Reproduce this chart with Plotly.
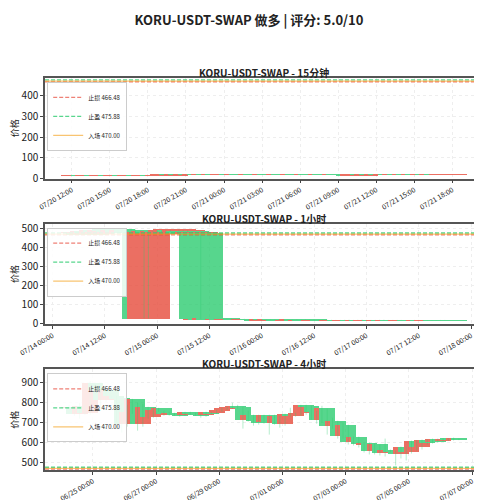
import pandas as pd
import plotly.graph_objects as go
from plotly.subplots import make_subplots

STOP, TAKE, ENTRY = 466.48, 475.88, 470.00

# 15m chart candles (closes), open = previous close
m15_start = "2024-07-20 12:40"
m15_close = [15.6, 15.8, 15.5, 15.7, 15.9, 15.6, 15.8, 16.0, 15.7, 15.9, 16.1, 15.8,
             16.0, 16.2, 15.9, 16.1, 16.3, 16.0, 16.2, 19.5, 20.8, 20.5, 20.9, 20.6,
             20.9, 20.6, 20.8, 20.5, 20.7, 20.4, 20.6, 20.3, 20.5, 20.8, 20.5, 20.9,
             20.6, 20.3, 20.7, 20.4, 20.1, 20.5, 20.2, 19.9, 20.3, 20.0, 19.7, 20.1,
             19.8, 19.5, 19.9, 19.6, 19.3, 19.7, 19.4, 19.1, 19.5, 19.2, 18.9, 17.0,
             18.5, 18.8, 18.6, 18.9, 18.7, 19.0, 18.8, 19.1, 18.9, 19.2, 19.0, 19.3,
             19.1, 19.4, 19.2, 19.5, 19.3, 19.6, 19.4, 19.7]

# 1h candles
h1_start = "2024-07-14 07:00"
h1_close = [478, 470, 486, 480, 494, 488, 496, 490, 485, 492, 488, 495, 480, 478,
            26, 482, 488, 478, 490, 484, 492, 494, 486, 490, 480, 476, 478, 22,
            24, 23, 25, 24, 23, 24, 22, 23, 24, 22, 20, 21, 22, 20, 19, 21, 20, 22,
            20, 19, 18, 19, 20, 18, 19, 18, 17, 18, 19, 18, 17, 18, 19, 17, 18, 19,
            17, 18, 17, 18, 19, 17, 18, 17, 18, 17, 16, 17, 18, 17, 16, 17, 16, 17, 18, 17]

# 4h candles
h4_start = "2024-06-24 06:00"
h4_close = [775, 740, 780, 745, 900, 860, 810, 860, 830, 820, 690, 750, 815, 690,
            775, 725, 760, 770, 740, 745, 740, 735, 750, 745, 740, 735, 750, 745,
            760, 770, 775, 780, 775, 710, 735, 705, 700, 735, 695, 730, 690, 740,
            735, 745, 785, 780, 750, 710, 770, 680, 705, 630, 685, 600, 625, 590,
            595, 555, 590, 545, 560, 555, 540, 575, 550, 605, 575, 610, 600, 615,
            605, 618, 612, 620, 615]
h4_high = [790, 785, 800, 790, 910, 895, 875, 870, 835, 835, 800, 790, 820, 800,
           795, 780, 775, 775, 760, 755, 750, 745, 755, 755, 750, 745, 755, 755,
           765, 775, 780, 800, 790, 780, 760, 740, 740, 740, 740, 740, 735, 745,
           775, 750, 790, 790, 785, 760, 785, 770, 725, 710, 700, 690, 630, 630,
           600, 600, 595, 590, 620, 565, 560, 580, 580, 610, 612, 615, 615, 620,
           620, 622, 622, 625, 620]
h4_low = [765, 735, 720, 740, 740, 845, 760, 805, 825, 700, 650, 680, 745, 660,
          680, 720, 725, 755, 735, 735, 735, 730, 735, 740, 735, 725, 730, 740,
          745, 755, 765, 770, 770, 670, 705, 685, 690, 695, 640, 690, 675, 685,
          730, 730, 735, 740, 715, 695, 700, 640, 670, 620, 620, 590, 585, 575,
          550, 540, 540, 535, 530, 550, 485, 520, 510, 545, 560, 565, 590, 595,
          600, 605, 608, 610, 612]

RED, GREEN = "#e74c3c", "#2ecc71"
FMT = "%Y-%m-%d %H:%M:%S"


def candles(start, freq, close, high=None, low=None):
    t = pd.date_range(start, periods=len(close), freq=freq)
    df = pd.DataFrame({"t": t, "close": close})
    df["open"] = df["close"].shift(1).fillna(df["close"])
    df["high"] = high if high else df[["open", "close"]].max(axis=1)
    df["low"] = low if low else df[["open", "close"]].min(axis=1)
    df["color"] = [RED if c >= o else GREEN for o, c in zip(df["open"], df["close"])]
    return df


panels = [
    ("KORU-USDT-SWAP - 15分钟", candles(m15_start, "22min", m15_close), 3.0, 3, [0, 485]),
    ("KORU-USDT-SWAP - 1小时", candles(h1_start, "1h", h1_close), 10.0, 12, [-5, 525]),
    ("KORU-USDT-SWAP - 4小时", candles(h4_start, "4h", h4_close, h4_high, h4_low), 12.0, 48, [462, 968]),
]

fig = make_subplots(rows=3, cols=1, subplot_titles=[p[0] for p in panels],
                    vertical_spacing=0.115)

for i, (title, df, width_h, tick_h, yr) in enumerate(panels, start=1):
    leg = "legend" if i == 1 else f"legend{i}"
    wx, wy = [], []
    for t, h, l in zip(df["t"], df["high"], df["low"]):
        wx += [t.strftime(FMT), t.strftime(FMT), None]
        wy += [l, h, None]
    fig.add_trace(go.Scatter(x=wx, y=wy, mode="lines", line=dict(color="rgba(46,204,113,0.35)", width=1),
                             showlegend=False, hoverinfo="skip"), row=i, col=1)
    fig.add_trace(go.Bar(x=df["t"].dt.strftime(FMT), y=(df["close"] - df["open"]).abs().clip(lower=0.4),
                         base=df[["open", "close"]].min(axis=1), width=width_h * 3600 * 1000,
                         marker=dict(color=df["color"], line=dict(width=0)), opacity=0.8,
                         showlegend=False), row=i, col=1)
    x0 = (df["t"].iloc[0] - pd.Timedelta(hours=width_h / 2))
    x1 = (df["t"].iloc[-1] + pd.Timedelta(hours=width_h / 2))
    pad = (x1 - x0) * 0.04
    for name, val, color, dash in [("止损", STOP, "rgba(231,76,60,0.7)", "4px,2px"),
                                   ("止盈", TAKE, "rgba(46,204,113,0.8)", "4px,2px"),
                                   ("入场", ENTRY, "rgba(243,156,18,0.6)", "solid")]:
        fig.add_trace(go.Scatter(x=[(x0 - pad).strftime(FMT), (x1 + pad).strftime(FMT)], y=[val, val],
                                 mode="lines", name=f"{name} {val:.2f}",
                                 line=dict(color=color, width=1.3, dash=dash), legend=leg),
                      row=i, col=1)
    fig.update_xaxes(range=[(x0 - pad).strftime(FMT), (x1 + pad).strftime(FMT)], autorange=False,
                     dtick=tick_h * 3600 * 1000, tickformat="%m/%d %H:%M", tickangle=-30,
                     tickfont=dict(size=7), showgrid=True, gridcolor="#eeeeee", griddash="dot",
                     showline=True, mirror=True, linecolor="#555", linewidth=1.5,
                     ticks="outside", ticklen=3, row=i, col=1)
    fig.update_yaxes(range=yr, autorange=False, dtick=100, title_text="价格", title_standoff=2,
                     title_font=dict(size=9), tickfont=dict(size=10), showgrid=True,
                     gridcolor="#eeeeee", griddash="dot",
                     showline=True, mirror=True, linecolor="#555", linewidth=1.5,
                     ticks="outside", ticklen=3, zeroline=False, row=i, col=1)

legend_style = dict(x=0.005, xanchor="left", bgcolor="rgba(255,255,255,0.85)", bordercolor="#ccc",
                    borderwidth=1, font=dict(size=6), tracegroupgap=0, itemwidth=30)
layout_legends = {}
for i, yd in enumerate([fig.layout.yaxis.domain, fig.layout.yaxis2.domain, fig.layout.yaxis3.domain], start=1):
    key = "legend" if i == 1 else f"legend{i}"
    layout_legends[key] = dict(legend_style, y=yd[1] - 0.01, yanchor="top")

fig.update_layout(
    width=482, height=500, barmode="overlay", bargap=0,
    title=dict(text="<b>KORU-USDT-SWAP 做多 | 评分: 5.0/10</b>", x=0.5, y=0.985,
               font=dict(size=13)),
    font=dict(family="Noto Sans CJK SC", color="#222"),
    margin=dict(l=36, r=5, t=70, b=35),
    plot_bgcolor="white", paper_bgcolor="white",
    **layout_legends,
)
fig.update_annotations(font=dict(size=10, family="Noto Sans CJK SC"), yshift=-4)
for a in fig.layout.annotations:
    a.text = f"<b>{a.text}</b>"

fig.write_html("out.html")
